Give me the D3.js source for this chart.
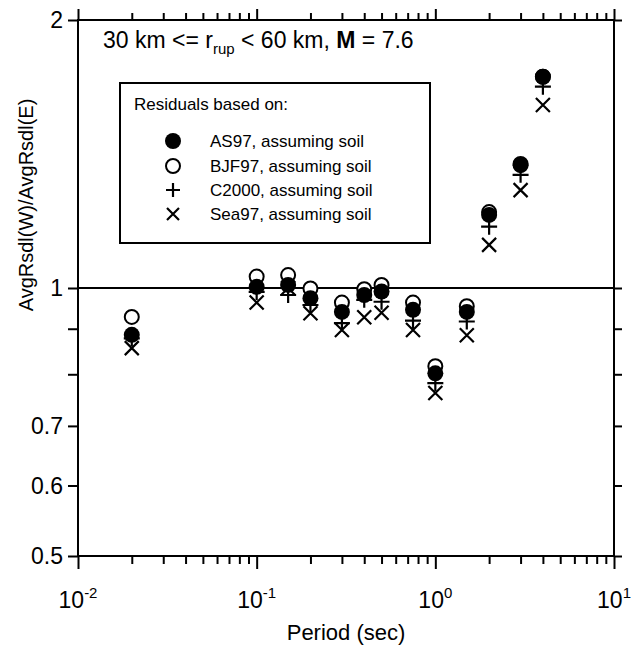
<!DOCTYPE html>
<html><head><meta charset="utf-8">
<script src="https://cdn.jsdelivr.net/npm/d3@7"></script>
<style>body{margin:0;background:#fff}svg{display:block}text{font-family:"Liberation Sans",Arial,sans-serif;fill:#000}</style>
</head><body><svg id="c" width="631" height="647"></svg>
<script>
const periods = [0.02, 0.1, 0.15, 0.2, 0.3, 0.4, 0.5, 0.75, 1.0, 1.5, 2, 3, 4];
const as97   = [0.886, 1.003, 1.008, 0.974, 0.940, 0.982, 0.991, 0.945, 0.802, 0.940, 1.208, 1.374, 1.727];
const bjf97  = [0.928, 1.030, 1.034, 0.999, 0.963, 0.997, 1.008, 0.963, 0.817, 0.954, 1.217, 1.378, 1.727];
const c2000  = [0.878, 0.990, 0.982, 0.957, 0.913, 0.970, 0.965, 0.919, 0.782, 0.917, 1.172, 1.340, 1.683];
const sea97  = [0.856, 0.963, 1.000, 0.937, 0.897, 0.927, 0.938, 0.897, 0.762, 0.885, 1.118, 1.288, 1.605];
const yTickValues = [0.5, 0.6, 0.7, 0.8, 0.9, 1, 2];
const yTickLabels = ["0.5", "0.6", "0.7", "", "", "1", "2"];
const xMajor = [0.01, 0.1, 1, 10];
const xMajorExp = ["-2", "-1", "0", "1"];
const legendLabels = ["AS97, assuming soil", "BJF97, assuming soil", "C2000, assuming soil", "Sea97, assuming soil"];

const svg = d3.select("#c");
const L = 78, R = 614, T = 20, B = 556;
const x = d3.scaleLog().domain([0.01, 10]).range([L, R]);
const y = d3.scaleLog().base(2).domain([0.5, 2]).range([B, T]);

const xMinor = [];
[0.01, 0.1, 1].forEach(d => { for (let k = 2; k <= 9; k++) xMinor.push(d * k); });

function styleAxis(g) {
  g.select(".domain").remove();
  g.selectAll("line").attr("stroke", "#000").attr("stroke-width", 2);
}
// bottom
svg.append("g").attr("transform", `translate(0,${B})`)
  .call(d3.axisBottom(x).tickValues(xMinor).tickSize(8).tickFormat("")).call(styleAxis);
const bx = svg.append("g").attr("transform", `translate(0,${B})`)
  .call(d3.axisBottom(x).tickValues(xMajor).tickSize(13).tickFormat("")).call(styleAxis);
// top
svg.append("g").attr("transform", `translate(0,${T})`)
  .call(d3.axisTop(x).tickValues(xMinor).tickSize(7).tickFormat("")).call(styleAxis);
svg.append("g").attr("transform", `translate(0,${T})`)
  .call(d3.axisTop(x).tickValues(xMajor).tickSize(11).tickFormat("")).call(styleAxis);
// left / right
svg.append("g").attr("transform", `translate(${L},0)`)
  .call(d3.axisLeft(y).tickValues(yTickValues).tickSize(10).tickFormat("")).call(styleAxis);
svg.append("g").attr("transform", `translate(${R},0)`)
  .call(d3.axisRight(y).tickValues(yTickValues).tickSize(8).tickFormat("")).call(styleAxis);

// y tick labels
svg.append("g").selectAll("text").data(yTickValues).join("text")
  .attr("x", L - 15).attr("y", d => y(d)).attr("dy", "0.36em")
  .attr("text-anchor", "end").attr("font-size", 23)
  .text((d, i) => yTickLabels[i]);

// x tick labels
const xl = svg.append("g").selectAll("text").data(xMajor).join("text")
  .attr("x", d => x(d)).attr("y", 608).attr("text-anchor", "middle").attr("font-size", 23);
xl.append("tspan").text("10");
xl.append("tspan").attr("dy", -10).attr("font-size", 15).text((d, i) => xMajorExp[i]);

// frame
svg.append("rect").attr("x", L).attr("y", T).attr("width", R - L).attr("height", B - T)
  .attr("fill", "none").attr("stroke", "#000").attr("stroke-width", 2);
// reference line at 1
svg.append("line").attr("x1", L).attr("x2", R).attr("y1", y(1)).attr("y2", y(1))
  .attr("stroke", "#000").attr("stroke-width", 2);

// axis titles
svg.append("text").attr("x", (L + R) / 2).attr("y", 640).attr("text-anchor", "middle")
  .attr("font-size", 22).text("Period (sec)");
svg.append("text").attr("transform", "translate(33,205) rotate(-90)").attr("text-anchor", "middle")
  .attr("font-size", 20).text("AvgRsdl(W)/AvgRsdl(E)");

// title
const tt = svg.append("text").attr("x", 103).attr("y", 48).attr("font-size", 23);
tt.append("tspan").text("30 km <= r");
tt.append("tspan").attr("dy", 6).attr("font-size", 15).text("rup");
tt.append("tspan").attr("dy", -6).text(" < 60 km, ");
tt.append("tspan").attr("font-weight", "bold").text("M");
tt.append("tspan").text(" = 7.6");

// markers
function drawX(g, cx, cy, s) {
  g.append("path").attr("d", `M${cx - s},${cy - s}L${cx + s},${cy + s}M${cx - s},${cy + s}L${cx + s},${cy - s}`)
    .attr("stroke", "#000").attr("stroke-width", 2.2).attr("fill", "none");
}
function drawPlus(g, cx, cy, s) {
  g.append("path").attr("d", `M${cx - s},${cy}L${cx + s},${cy}M${cx},${cy - s}L${cx},${cy + s}`)
    .attr("stroke", "#000").attr("stroke-width", 2.2).attr("fill", "none");
}
function drawOpen(g, cx, cy) {
  g.append("circle").attr("cx", cx).attr("cy", cy).attr("r", 7).attr("fill", "#fff")
    .attr("stroke", "#000").attr("stroke-width", 2);
}
function drawFilled(g, cx, cy) {
  g.append("circle").attr("cx", cx).attr("cy", cy).attr("r", 8).attr("fill", "#000");
}
const pts = svg.append("g");
periods.forEach((p, i) => drawX(pts, x(p), y(sea97[i]), 7));
periods.forEach((p, i) => drawPlus(pts, x(p), y(c2000[i]), 8));
periods.forEach((p, i) => drawOpen(pts, x(p), y(bjf97[i])));
periods.forEach((p, i) => drawFilled(pts, x(p), y(as97[i])));

// legend
const lg = svg.append("g");
lg.append("rect").attr("x", 120).attr("y", 83).attr("width", 310).attr("height", 160)
  .attr("fill", "#fff").attr("stroke", "#000").attr("stroke-width", 2);
lg.append("text").attr("x", 134).attr("y", 110).attr("font-size", 17).text("Residuals based on:");
const rowY = [141, 166, 190, 214];
drawFilled(lg, 173, rowY[0]);
drawOpen(lg, 173, rowY[1]);
drawPlus(lg, 173, rowY[2], 7);
drawX(lg, 173, rowY[3], 6);
lg.selectAll("text.e").data(legendLabels).join("text").attr("class", "e")
  .attr("x", 210).attr("y", (d, i) => rowY[i]).attr("dy", "0.36em").attr("font-size", 17).text(d => d);
</script></body></html>
